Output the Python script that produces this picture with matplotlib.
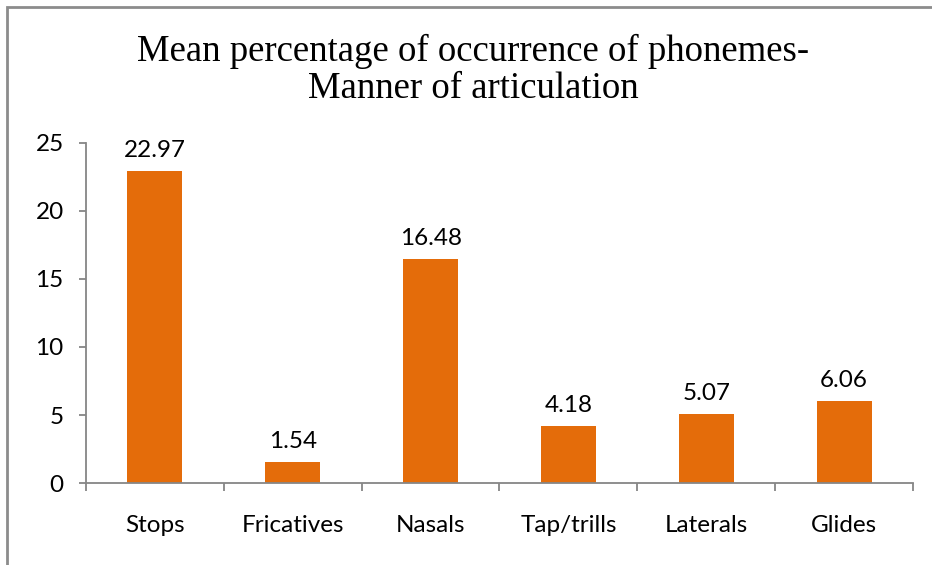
import matplotlib.pyplot as plt
import numpy as np
from matplotlib.patches import Rectangle

categories = ["Stops", "Fricatives", "Nasals", "Tap/trills", "Laterals", "Glides"]
values = [22.97, 1.54, 16.48, 4.18, 5.07, 6.06]
value_labels = ["22.97", "1.54", "16.48", "4.18", "5.07", "6.06"]
y_ticks = [0, 5, 10, 15, 20, 25]

bar_color = "#E46C0A"
axis_color = "#868686"
sans = ["Lato", "DejaVu Sans"]
fs = 17.5

fig = plt.figure(figsize=(9.32, 5.65), dpi=100)
ax = fig.add_axes([86 / 932, 1 - 483 / 565, (913 - 86) / 932, 340 / 565])

x = np.arange(len(categories))
ax.bar(x, values, width=0.4, color=bar_color, zorder=2)

for xi, v, lab in zip(x, values, value_labels):
    ax.annotate(lab, (xi, v), xytext=(0, 7), textcoords="offset points",
                ha="center", va="bottom", fontsize=fs, family=sans)

ax.set_xlim(-0.5, len(categories) - 0.5)
ax.set_ylim(0, 25)

# category labels at centres, tick marks at the boundaries
ax.set_xticks(x)
ax.set_xticklabels(categories, fontsize=fs, family=sans)
ax.tick_params(axis="x", which="major", length=0, pad=23)
ax.set_xticks(np.arange(len(categories) + 1) - 0.5, minor=True)
ax.tick_params(axis="x", which="minor", length=6, width=1.3, color=axis_color, direction="out")

ax.set_yticks(y_ticks)
ax.set_yticklabels([str(t) for t in y_ticks], fontsize=fs, family=sans)
ax.tick_params(axis="y", length=5, width=1.3, color=axis_color, pad=11)

for s in ["top", "right"]:
    ax.spines[s].set_visible(False)
for s in ["left", "bottom"]:
    ax.spines[s].set_color(axis_color)
    ax.spines[s].set_linewidth(1.3)

fig.text(473 / 932, 1 - 70 / 565, "Mean percentage of occurrence of phonemes-\nManner of articulation",
         ha="center", va="center", fontsize=26.5, family="Liberation Serif", linespacing=1.1)

# chart border (only top and left visible in the crop)
fig.patches.append(Rectangle((7 / 932, -0.1), 1.2, 1 - 7 / 565 + 0.1, transform=fig.transFigure,
                             fill=False, edgecolor="#8c8c8c", linewidth=2))

fig.savefig("out.png", dpi=100)
